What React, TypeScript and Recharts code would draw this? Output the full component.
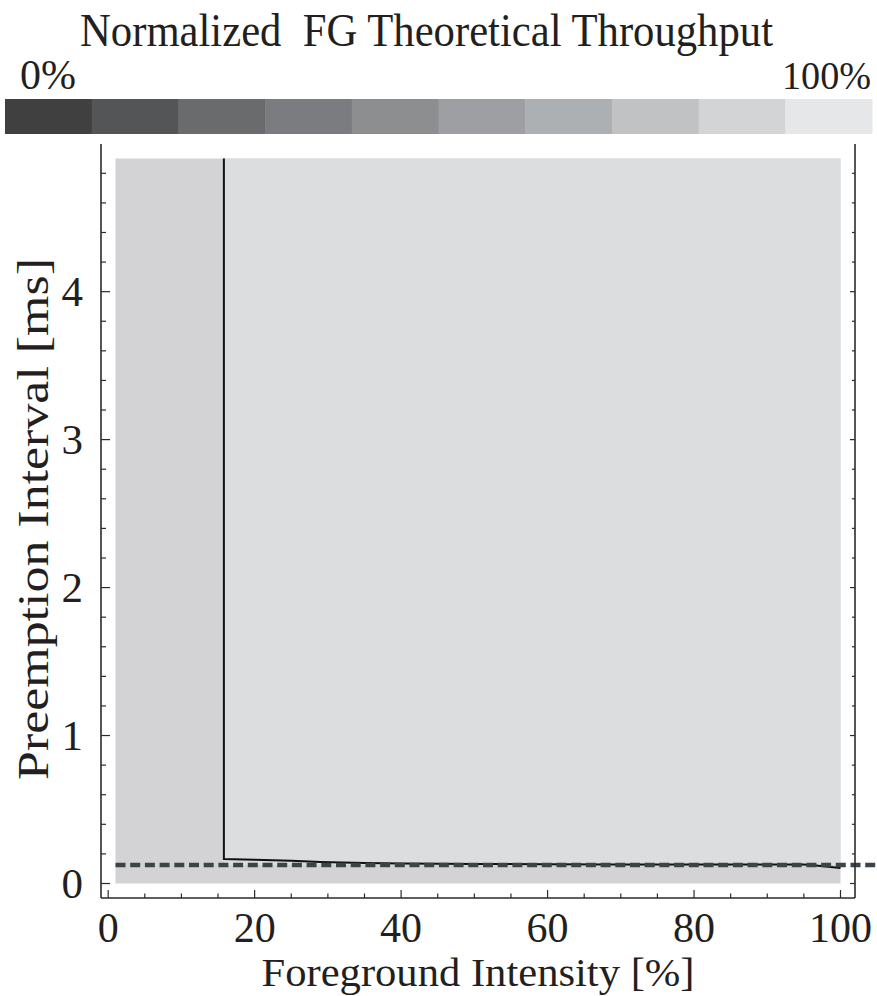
import React from "react";
import {
  ComposedChart,
  XAxis,
  YAxis,
  Line,
  ReferenceArea,
  ReferenceLine,
} from "recharts";

// ---- data ----
const colorbarColors = [
  "#404040",
  "#545557",
  "#6a6b6c",
  "#7b7c7f",
  "#8d8e8f",
  "#9e9fa2",
  "#adb0b2",
  "#c1c2c3",
  "#d3d4d6",
  "#e6e7e8",
];
const colorbarLabels = ["0%", "100%"];
const titleText = "Normalized  FG Theoretical Throughput";
const xTitle = "Foreground Intensity [%]";
const yTitle = "Preemption Interval [ms]";

const xTicks = [0, 5, 10, 15, 20, 25, 30, 35, 40, 45, 50, 55, 60, 65, 70, 75, 80, 85, 90, 95, 100];
const yTicks = [0, 0.2, 0.4, 0.6, 0.8, 1, 1.2, 1.4, 1.6, 1.8, 2, 2.2, 2.4, 2.6, 2.8, 3, 3.2, 3.4, 3.6, 3.8, 4, 4.2, 4.4, 4.6, 4.8];
const xMajor = [0, 20, 40, 60, 80, 100];
const yMajor = [0, 1, 2, 3, 4];

// contour boundary (black line)
const boundaryX = [15.8, 15.8, 20, 25, 29, 35, 40, 50, 60, 70, 80, 90, 95, 97, 100];
const boundaryY = [4.9, 0.166, 0.161, 0.153, 0.145, 0.139, 0.135, 0.132, 0.13, 0.129, 0.128, 0.128, 0.128, 0.12, 0.105];

// regions of the density plot
const plotXRange = [1, 100];
const plotYRange = [0, 4.9];
const lightRegionX = [15.8, 100];
const lightRegionY = [0.125, 4.9];

// dashed reference line
const dashedY = 0.125;
const dashedX = [1, 105];

const xDomain = [-0.98, 101.98];
const yDomain = [-0.098, 4.998];

const boundaryData = boundaryX.map((x, i) => ({ x, y: boundaryY[i] }));

const FONT = "'Liberation Serif', 'Times New Roman', serif";
const TEXT = "#231f20";
const FRAME = "#2b2b2b";

const isMajor = (v: number, majors: number[]) =>
  majors.some((m) => Math.abs(m - v) < 1e-6);

const BottomTick = (props: any) => {
  const { x, y, payload } = props;
  const major = isMajor(payload.value, xMajor);
  return (
    <g>
      <line x1={x} x2={x} y1={y} y2={y - (major ? 8 : 4.5)} stroke={FRAME} strokeWidth={1.2} />
      {major && (
        <text x={x} y={y + 44} textAnchor="middle" fontSize={42} fontFamily={FONT} fill={TEXT}>
          {payload.value}
        </text>
      )}
    </g>
  );
};

const TopTick = (props: any) => {
  const { x, y, payload } = props;
  const major = isMajor(payload.value, xMajor);
  return (
    <line x1={x} x2={x} y1={y} y2={y + (major ? 5 : 3)} stroke={FRAME} strokeWidth={1.2} />
  );
};

const LeftTick = (props: any) => {
  const { x, y, payload } = props;
  const major = isMajor(payload.value, yMajor);
  return (
    <g>
      <line x1={x} x2={x + (major ? 9 : 5)} y1={y} y2={y} stroke={FRAME} strokeWidth={1.2} />
      {major && (
        <text x={x - 18} y={y + 14.5} textAnchor="end" fontSize={43} fontFamily={FONT} fill={TEXT}>
          {payload.value}
        </text>
      )}
    </g>
  );
};

const RightTick = (props: any) => {
  const { x, y, payload } = props;
  const major = isMajor(payload.value, yMajor);
  return (
    <line x1={x} x2={x - (major ? 5 : 3)} y1={y} y2={y} stroke={FRAME} strokeWidth={1.2} />
  );
};

const XLabel = (props: any) => {
  const vb = props.viewBox || { x: 101, y: 898, width: 754, height: 98 };
  return (
    <text
      x={vb.x + vb.width / 2}
      y={vb.y + 88}
      textAnchor="middle"
      fontSize={40}
      fontFamily={FONT}
      fill={TEXT}
      textLength={433}
      lengthAdjust="spacingAndGlyphs"
    >
      {xTitle}
    </text>
  );
};

const YLabel = (props: any) => {
  const cx = 48;
  const cy = 519;
  return (
    <text
      x={cx}
      y={cy}
      transform={`rotate(-90, ${cx}, ${cy})`}
      textAnchor="middle"
      fontSize={44}
      fontFamily={FONT}
      fill={TEXT}
      textLength={522}
      lengthAdjust="spacingAndGlyphs"
    >
      {yTitle}
    </text>
  );
};

const Header = () => {
  const x0 = 5;
  const x1 = 872;
  const w = (x1 - x0) / colorbarColors.length;
  return (
    <svg
      width={877}
      height={144}
      style={{ position: "absolute", left: 0, top: 0, pointerEvents: "none" }}
    >
      <text
        x={80}
        y={46}
        fontSize={47}
        fontFamily={FONT}
        fill={TEXT}
        textLength={693}
        lengthAdjust="spacingAndGlyphs"
        style={{ whiteSpace: "pre" }}
        xmlSpace="preserve"
      >
        {titleText}
      </text>
      <text
        x={20}
        y={89}
        fontSize={42}
        fontFamily={FONT}
        fill={TEXT}
        textLength={56}
        lengthAdjust="spacingAndGlyphs"
      >
        {colorbarLabels[0]}
      </text>
      <text
        x={871}
        y={89}
        textAnchor="end"
        fontSize={40}
        fontFamily={FONT}
        fill={TEXT}
        textLength={89}
        lengthAdjust="spacingAndGlyphs"
      >
        {colorbarLabels[1]}
      </text>
      {colorbarColors.map((c, i) => (
        <rect key={i} x={x0 + i * w} y={99} width={w + 0.5} height={35} fill={c} />
      ))}
    </svg>
  );
};

export default function App() {
  return (
    <div style={{ position: "absolute", left: 0, top: 0, width: 877, height: 996, background: "#fff" }}>
      <ComposedChart
        width={877}
        height={996}
        data={boundaryData}
        margin={{ top: 144, right: 0, bottom: 0, left: 0 }}
      >
        <XAxis
          xAxisId="b"
          dataKey="x"
          type="number"
          orientation="bottom"
          domain={xDomain}
          allowDataOverflow
          ticks={xTicks}
          interval={0}
          height={98}
          tickSize={0}
          tickMargin={0}
          tickLine={false}
          axisLine={{ stroke: FRAME, strokeWidth: 1.6 }}
          tick={<BottomTick />}
          label={{ content: (p: any) => <XLabel {...p} /> }}
        />
        <XAxis
          xAxisId="t"
          dataKey="x"
          type="number"
          orientation="top"
          domain={xDomain}
          allowDataOverflow
          ticks={xTicks}
          interval={0}
          height={0}
          tickSize={0}
          tickMargin={0}
          tickLine={false}
          axisLine={{ stroke: FRAME, strokeWidth: 1.6 }}
          tick={<TopTick />}
        />
        <YAxis
          yAxisId="l"
          type="number"
          orientation="left"
          domain={yDomain}
          allowDataOverflow
          ticks={yTicks}
          interval={0}
          width={101}
          tickSize={0}
          tickMargin={0}
          tickLine={false}
          axisLine={{ stroke: FRAME, strokeWidth: 1.6 }}
          tick={<LeftTick />}
          label={{ content: (p: any) => <YLabel {...p} /> }}
        />
        <YAxis
          yAxisId="r"
          type="number"
          orientation="right"
          domain={yDomain}
          allowDataOverflow
          ticks={yTicks}
          interval={0}
          width={22}
          tickSize={0}
          tickMargin={0}
          tickLine={false}
          axisLine={{ stroke: FRAME, strokeWidth: 1.6 }}
          tick={<RightTick />}
        />
        <ReferenceArea
          xAxisId="b"
          yAxisId="l"
          x1={plotXRange[0]}
          x2={plotXRange[1]}
          y1={plotYRange[0]}
          y2={plotYRange[1]}
          fill="#d3d3d5"
          fillOpacity={1}
          stroke="none"
        />
        <ReferenceArea
          xAxisId="b"
          yAxisId="l"
          x1={lightRegionX[0]}
          x2={lightRegionX[1]}
          y1={lightRegionY[0]}
          y2={lightRegionY[1]}
          fill="#dcdddf"
          fillOpacity={1}
          stroke="none"
        />
        <Line
          xAxisId="b"
          yAxisId="l"
          dataKey="y"
          type="linear"
          stroke="#111"
          strokeWidth={2}
          dot={false}
          isAnimationActive={false}
        />
        <ReferenceLine
          xAxisId="b"
          yAxisId="l"
          segment={[
            { x: dashedX[0], y: dashedY },
            { x: dashedX[1], y: dashedY },
          ]}
          ifOverflow="visible"
          stroke="#3b4548"
          strokeWidth={4.5}
          strokeDasharray="10 4.7"
        />
      </ComposedChart>
      <Header />
    </div>
  );
}
